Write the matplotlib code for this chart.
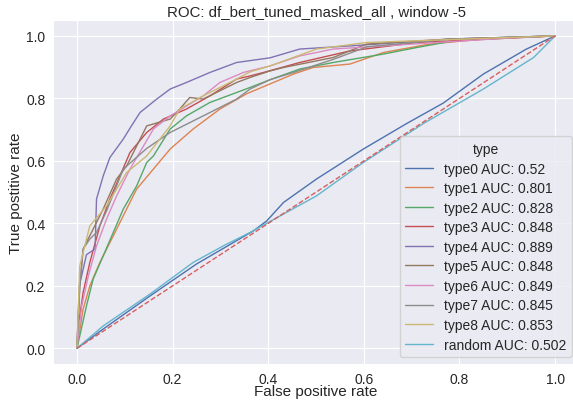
import matplotlib
matplotlib.use("Agg")
import matplotlib.pyplot as plt
import seaborn as sns

sns.set_style("darkgrid")
plt.rcParams["font.family"] = ["Liberation Sans", "DejaVu Sans"]

title = "ROC: df_bert_tuned_masked_all , window -5"
labels = ["type0 AUC: 0.52", "type1 AUC: 0.801", "type2 AUC: 0.828", "type3 AUC: 0.848",
          "type4 AUC: 0.889", "type5 AUC: 0.848", "type6 AUC: 0.849", "type7 AUC: 0.845",
          "type8 AUC: 0.853", "random AUC: 0.502"]

# ROC points (fpr, tpr)
fpr0 = [0, 0.055, 0.153, 0.25, 0.369, 0.397, 0.432, 0.501, 0.599, 0.69, 0.766, 0.85, 0.94, 1.0]
tpr0 = [0, 0.062, 0.168, 0.27, 0.376, 0.408, 0.467, 0.542, 0.638, 0.72, 0.785, 0.878, 0.958, 1.0]

fpr1 = [0, 0.002, 0.013, 0.027, 0.048, 0.076, 0.104, 0.125, 0.16, 0.195, 0.243, 0.299, 0.355,
        0.411, 0.453, 0.494, 0.571, 0.641, 0.738, 0.85, 1.0]
tpr1 = [0, 0.02, 0.126, 0.2, 0.275, 0.36, 0.446, 0.51, 0.574, 0.638, 0.702, 0.766, 0.815,
        0.851, 0.878, 0.899, 0.91, 0.947, 0.974, 0.99, 1.0]

fpr2 = [0, 0.006, 0.02, 0.034, 0.055, 0.076, 0.097, 0.125, 0.146, 0.16, 0.195, 0.229, 0.278,
        0.334, 0.362, 0.404, 0.466, 0.536, 0.641, 0.711, 0.808, 1.0]
tpr2 = [0, 0.04, 0.136, 0.222, 0.296, 0.371, 0.446, 0.52, 0.595, 0.616, 0.702, 0.744, 0.787,
        0.819, 0.835, 0.86, 0.894, 0.915, 0.942, 0.963, 0.99, 1.0]

fpr3 = [0, 0.003, 0.013, 0.027, 0.048, 0.069, 0.09, 0.111, 0.146, 0.181, 0.229, 0.278, 0.334,
        0.362, 0.39, 0.466, 0.571, 0.711, 1.0]
tpr3 = [0, 0.072, 0.179, 0.275, 0.392, 0.478, 0.552, 0.627, 0.691, 0.734, 0.766, 0.808, 0.862,
        0.872, 0.883, 0.915, 0.952, 0.979, 1.0]

fpr4 = [0, 0.005, 0.02, 0.038, 0.041, 0.055, 0.069, 0.097, 0.114, 0.132, 0.167, 0.195, 0.229,
        0.278, 0.334, 0.404, 0.466, 0.571, 0.78, 1.0]
tpr4 = [0, 0.2, 0.3, 0.318, 0.478, 0.552, 0.611, 0.67, 0.712, 0.755, 0.798, 0.83, 0.851,
        0.883, 0.915, 0.93, 0.958, 0.968, 0.99, 1.0]

fpr5 = [0, 0.006, 0.013, 0.034, 0.055, 0.083, 0.104, 0.146, 0.195, 0.215, 0.236, 0.264, 0.334,
        0.362, 0.404, 0.432, 0.536, 0.606, 0.78, 1.0]
tpr5 = [0, 0.2, 0.318, 0.382, 0.446, 0.542, 0.584, 0.712, 0.734, 0.766, 0.803, 0.798, 0.851,
        0.867, 0.888, 0.899, 0.931, 0.974, 0.99, 1.0]

fpr6 = [0, 0.01, 0.024, 0.041, 0.062, 0.083, 0.111, 0.16, 0.195, 0.264, 0.299, 0.348, 0.404,
        0.466, 0.536, 0.92, 1.0]
tpr6 = [0, 0.136, 0.232, 0.328, 0.414, 0.488, 0.574, 0.702, 0.744, 0.808, 0.851, 0.883, 0.904,
        0.936, 0.958, 0.995, 1.0]

fpr7 = [0, 0.006, 0.013, 0.027, 0.041, 0.062, 0.097, 0.146, 0.195, 0.264, 0.334, 0.362, 0.404,
        0.453, 0.536, 0.606, 0.78, 1.0]
tpr7 = [0, 0.2, 0.318, 0.35, 0.371, 0.44, 0.574, 0.64, 0.691, 0.744, 0.798, 0.83, 0.86,
        0.883, 0.925, 0.965, 0.99, 1.0]

fpr8 = [0, 0.006, 0.027, 0.062, 0.104, 0.146, 0.195, 0.215, 0.264, 0.334, 0.362, 0.404, 0.501,
        0.606, 1.0]
tpr8 = [0, 0.264, 0.392, 0.456, 0.563, 0.616, 0.712, 0.766, 0.808, 0.862, 0.885, 0.904, 0.958,
        0.979, 1.0]

fpr9 = [0, 0.055, 0.153, 0.243, 0.306, 0.362, 0.432, 0.501, 0.599, 0.725, 0.85, 0.955, 1.0]
tpr9 = [0, 0.072, 0.174, 0.275, 0.328, 0.371, 0.43, 0.488, 0.595, 0.72, 0.83, 0.931, 1.0]

fprs = [fpr0, fpr1, fpr2, fpr3, fpr4, fpr5, fpr6, fpr7, fpr8, fpr9]
tprs = [tpr0, tpr1, tpr2, tpr3, tpr4, tpr5, tpr6, tpr7, tpr8, tpr9]

fig = plt.figure(figsize=(5.73, 4.02), dpi=100)
ax = fig.add_axes([0.0925, 0.092, 0.918, 0.855])

colors = sns.color_palette("deep", 10)
for i in range(len(labels)):
    ax.plot(fprs[i], tprs[i], color=colors[i], lw=1.0, label=labels[i])
ax.plot([0, 1], [0, 1], color="#d65f5f", ls="--", lw=1.0)

ax.set_xlim(-0.05, 1.05)
ax.set_ylim(-0.05, 1.05)
ax.tick_params(labelsize=10, colors="0.15", pad=2)
ax.set_xlabel("False positive rate", fontsize=11, color="0.15", labelpad=-1)
ax.set_ylabel("True postitive rate", fontsize=11, color="0.15", labelpad=2)
ax.set_title(title, fontsize=10.8, color="0.15", pad=4)
ax.legend(title="type", loc="lower right", fontsize=10, title_fontsize=10,
          labelspacing=0.4)

fig.savefig("out.png", dpi=100)
